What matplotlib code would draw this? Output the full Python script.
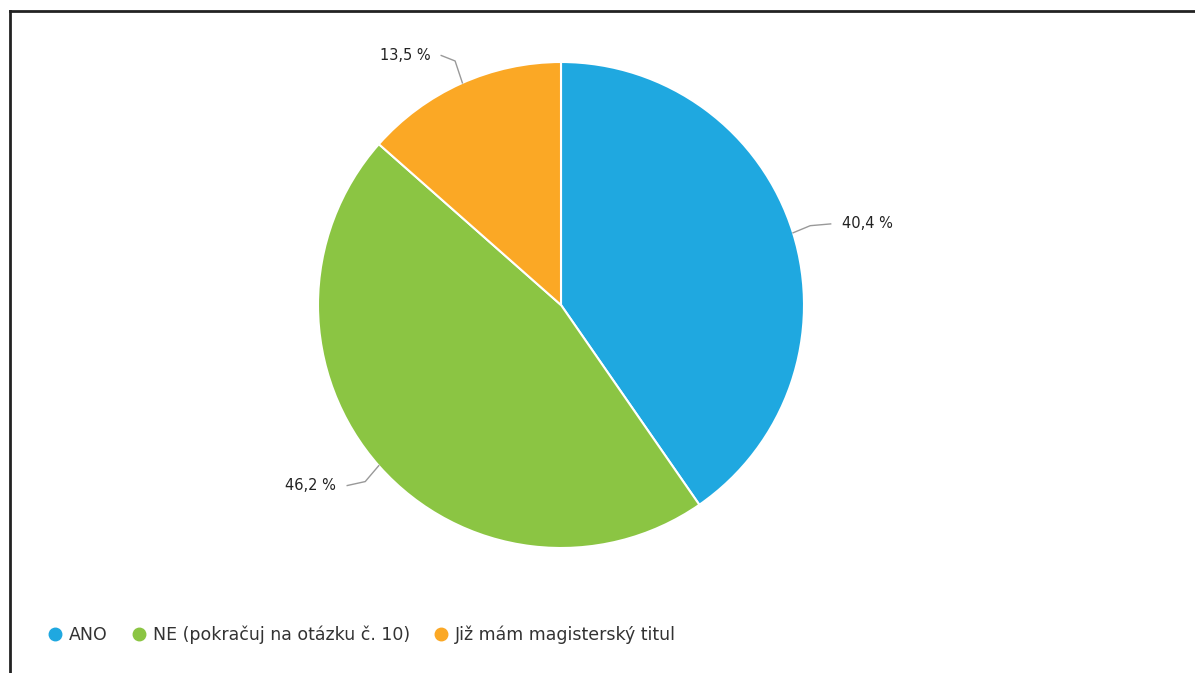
import numpy as np
import matplotlib.pyplot as plt
from matplotlib.lines import Line2D

labels = ["ANO", "NE (pokračuj na otázku č. 10)", "Již mám magisterský titul"]
values = [40.4, 46.2, 13.5]
value_text = ["40,4 %", "46,2 %", "13,5 %"]
colors = ["#1fa8e0", "#8bc543", "#fba825"]

W, H = 1195, 673
fig = plt.figure(figsize=(W / 100, H / 100), dpi=100)
ax = fig.add_axes([0, 0, 1, 1])
ax.set_xlim(0, W)
ax.set_ylim(H, 0)
ax.set_aspect("equal")
ax.axis("off")

cx, cy, r = 561, 305, 243
# y axis is inverted, so flip the direction to get a clockwise pie from the top
wedges, _ = ax.pie(values, colors=colors, center=(cx, cy), radius=r,
                   startangle=-90, counterclock=True,
                   wedgeprops=dict(edgecolor="white", linewidth=1.5))
ax.set_xlim(0, W)
ax.set_ylim(H, 0)

# labels with connectors
start = 90.0
for v, txt in zip(values, value_text):
    mid = np.deg2rad(start - v / 100 * 360 / 2)
    start -= v / 100 * 360
    c, s = np.cos(mid), np.sin(mid)
    side = 1 if c >= 0 else -1
    x0, y0 = cx + r * c, cy - r * s
    x1, y1 = cx + (r + 18) * c, cy - (r + 18) * s
    ly = cy - (r + 30) * s
    x2 = cx + (r + 30) * c + side * 9
    ax.plot([x0, x1, x2], [y0, (y1 + ly) / 2, ly], color="#999999", lw=1,
            solid_joinstyle="round")
    ax.text(x2 + side * 11, ly, txt, ha="left" if side > 0 else "right",
            va="center", fontsize=10.5, color="#222222")

handles = [Line2D([], [], marker="o", ls="", markersize=9, color=col) for col in colors]
leg = ax.legend(handles, labels, loc="lower left", bbox_to_anchor=(29 / W, 1 - 660 / H),
                ncol=3, frameon=False, fontsize=12.5, handletextpad=0.2,
                columnspacing=1.2, handlelength=1.2, labelcolor="#333333")

# frame of the screenshot
fig.add_artist(Line2D([10 / W, 10 / W], [0, 1 - 11 / H], color="#222222", lw=2))
fig.add_artist(Line2D([10 / W, 1], [1 - 11 / H, 1 - 11 / H], color="#222222", lw=2))

fig.savefig("out.png", dpi=100)
